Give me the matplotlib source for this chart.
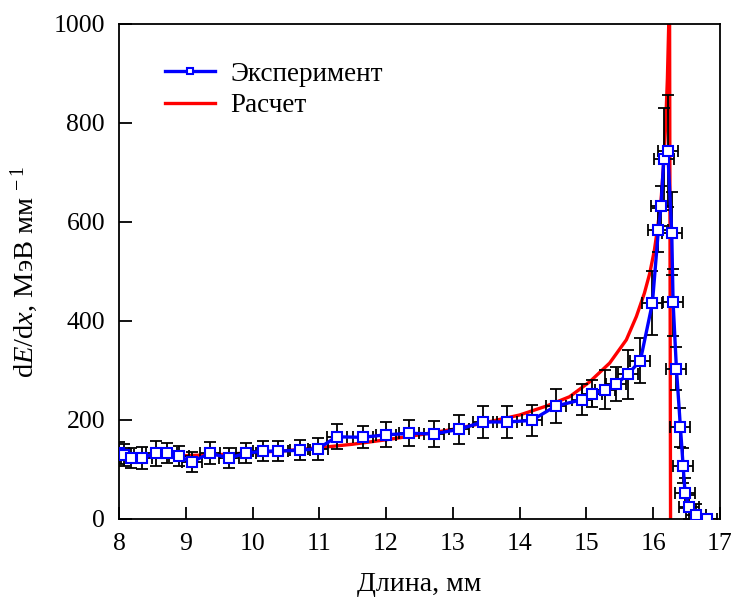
import numpy as np
import matplotlib
matplotlib.use("Agg")
import matplotlib.pyplot as plt

# experimental points (length, mm / dE/dx, MeV/mm)
exp_x = [8.00, 8.07, 8.18, 8.35, 8.55, 8.72, 8.90, 9.09, 9.36, 9.65, 9.90,
         10.16, 10.38, 10.71, 10.98, 11.26, 11.65, 12.00, 12.35, 12.72, 13.09,
         13.45, 13.81, 14.18, 14.54, 14.93, 15.08, 15.28, 15.45, 15.62, 15.81,
         15.99, 16.08, 16.12, 16.16, 16.22, 16.28, 16.30, 16.35, 16.41, 16.45,
         16.48, 16.54, 16.64, 16.81]
exp_y = [133, 129, 123, 123, 133, 133, 127, 115, 133, 123, 133,
         137, 137, 139, 142, 166, 165, 170, 173, 172, 181,
         196, 196, 199, 228, 241, 253, 261, 273, 292, 320,
         436, 584, 632, 728, 744, 577, 438, 304, 185, 108,
         52, 24, 9, 0]
exp_yerr = [22, 22, 20, 22, 25, 20, 20, 20, 22, 20, 20,
            20, 20, 20, 22, 25, 22, 25, 26, 26, 30,
            32, 32, 32, 34, 31, 27, 39, 34, 50, 46,
            65, 45, 40, 103, 113, 84, 68, 44, 40, 35,
            30, 25, 22, 0]
exp_xerr = 0.15

# calculated curve
calc_x = [8.0, 8.5, 9.0, 9.5, 10.0, 10.5, 11.0, 11.5, 12.0, 12.5, 13.0, 13.5,
          14.0, 14.4, 14.75, 15.05, 15.35, 15.6, 15.75, 15.87, 15.95, 16.02,
          16.07, 16.12, 16.16, 16.19, 16.215, 16.235, 16.245, 16.262]
calc_y = [128, 127, 128, 130, 134, 138, 144, 151, 160, 170, 181, 195,
          210, 228, 247, 277, 315, 362, 409, 456, 496, 543,
          590, 644, 720, 800, 890, 1000, 1200, 0]

plt.rcParams['font.family'] = ['Liberation Serif', 'DejaVu Serif']
plt.rcParams['mathtext.fontset'] = 'custom'
plt.rcParams['mathtext.rm'] = 'Liberation Serif'
plt.rcParams['mathtext.it'] = 'Liberation Serif:italic'

fig = plt.figure(figsize=(7.36, 5.97), dpi=100)
ax = fig.add_axes([0.1617, 0.1307, 0.8163, 0.8291])

ax.plot(calc_x, calc_y, color='red', lw=2.4, zorder=1, label='Расчет')
ax.errorbar(exp_x, exp_y, yerr=exp_yerr, xerr=exp_xerr, fmt='none',
            ecolor='black', elinewidth=1.3, capsize=4.5, capthick=1.3, zorder=2)
ax.plot(exp_x, exp_y, color='blue', lw=2.4, marker='s', ms=7,
        mfc='white', mec='blue', mew=1.5, zorder=3, label='Эксперимент')

ax.set_xlim(8, 17)
ax.set_ylim(0, 1000)
ax.set_xticks(np.arange(8, 18, 1))
ax.set_yticks(np.arange(0, 1001, 200))
ax.tick_params(direction='in', length=9, width=1.3, labelsize=18.5, pad=10,
               top=False, right=False)
for sp in ax.spines.values():
    sp.set_linewidth(1.3)

ax.set_xlabel('Длина, мм', fontsize=20, labelpad=12)
ax.set_ylabel(r'd$E$/d$x$, МэВ мм$^{\;-1}$', fontsize=20.5, labelpad=10)

handles, labels = ax.get_legend_handles_labels()
ax.legend(handles[::-1], labels[::-1], loc='upper left', frameon=False,
          fontsize=19.5, handlelength=1.85, handletextpad=0.55,
          borderpad=0, borderaxespad=0, bbox_to_anchor=(0.0765, 0.924),
          markerscale=0.6, labelspacing=0.25)

fig.savefig('out.png', dpi=100)
